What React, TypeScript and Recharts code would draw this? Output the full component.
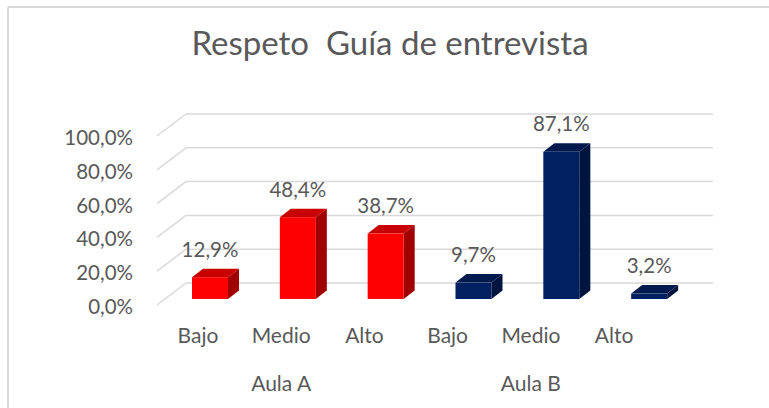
import React from "react";
import { BarChart, Bar, XAxis, YAxis, CartesianGrid, LabelList } from "recharts";

const levels = ["Bajo", "Medio", "Alto", "Bajo", "Medio", "Alto"];
const groups = ["Aula A", "Aula A", "Aula A", "Aula B", "Aula B", "Aula B"];
const values = [12.9, 48.4, 38.7, 9.7, 87.1, 3.2];
const yTicks = [0, 20, 40, 60, 80, 100];
const title = "Respeto  Guía de entrevista";

const data = levels.map((lvl, i) => ({
  key: `${groups[i]}-${lvl}`,
  level: lvl,
  group: groups[i],
  value: values[i],
}));

const FONT = "Lato, Carlito, Calibri, 'Open Sans', sans-serif";
const TXT = "#595959";
const GRID = "#D9D9D9";
const FS = 20.5;

const palette: Record<string, { front: string; top: string; side: string }> = {
  "Aula A": { front: "#FF0000", top: "#C80000", side: "#A00000" },
  "Aula B": { front: "#002060", top: "#001A4E", side: "#001440" },
};

// 3D offsets
const BAR_SHIFT_X = 8;
const BAR_SHIFT_Y = -6;
const DEPTH_X = 11;
const DEPTH_Y = 8.5;
const WALL_X = 28;
const WALL_Y = 22;

const fmtPct = (v: number) => v.toFixed(1).replace(".", ",") + "%";

const Bar3D = (props: any) => {
  const { x, y, width, height, payload } = props;
  if (x == null || y == null) return null;
  const c = palette[payload.group];
  const fx = x + BAR_SHIFT_X;
  const fy = y + BAR_SHIFT_Y;
  const w = width;
  const h = height;
  const top = `${fx},${fy} ${fx + DEPTH_X},${fy - DEPTH_Y} ${fx + w + DEPTH_X},${fy - DEPTH_Y} ${fx + w},${fy}`;
  const side = `${fx + w},${fy} ${fx + w + DEPTH_X},${fy - DEPTH_Y} ${fx + w + DEPTH_X},${fy + h - DEPTH_Y} ${fx + w},${fy + h}`;
  return (
    <g>
      <polygon points={side} fill={c.side} />
      <polygon points={top} fill={c.top} />
      <rect x={fx} y={fy} width={w} height={h} fill={c.front} />
    </g>
  );
};

const ValueLabel = (props: any) => {
  const { x, y, width, value } = props;
  const cx = x + BAR_SHIFT_X + width / 2;
  const by = y + BAR_SHIFT_Y - DEPTH_Y - 12;
  return (
    <text x={cx} y={by} textAnchor="middle" fill={TXT} fontSize={FS} fontFamily={FONT}>
      {fmtPct(value)}
    </text>
  );
};

const YTick = (props: any) => {
  const { x, y, payload } = props;
  return (
    <text x={x} y={y + 9} textAnchor="end" fill={TXT} fontSize={FS} fontFamily={FONT}>
      {fmtPct(payload.value)}
    </text>
  );
};

const XTick = (props: any) => {
  const { x, y, payload, index } = props;
  const i = typeof index === "number" ? index : payload.index;
  const lx = 6.6 + 0.9476 * x;
  const g = groups[i];
  const members = groups.map((gg, k) => (gg === g ? k : -1)).filter((k) => k >= 0);
  const isMid = members[Math.floor(members.length / 2)] === i;
  return (
    <g>
      <text x={lx} y={y + 38} textAnchor="middle" fill={TXT} fontSize={FS + 0.5} fontFamily={FONT}>
        {levels[i]}
      </text>
      {isMid && (
        <text x={lx} y={y + 86} textAnchor="middle" fill={TXT} fontSize={FS + 0.5} fontFamily={FONT}>
          {g}
        </text>
      )}
    </g>
  );
};

const gridLine = (p: any) => {
  const { x1, x2, y1, index } = p;
  return (
    <g key={`h-${index}-${y1}`}>
      <line x1={x1 - 1} y1={y1} x2={x1 + WALL_X} y2={y1 - WALL_Y} stroke={GRID} strokeWidth={1.5} />
      <line x1={x1 + WALL_X} y1={y1 - WALL_Y} x2={x2 + WALL_X} y2={y1 - WALL_Y} stroke={GRID} strokeWidth={1.5} />
    </g>
  );
};

export default function App() {
  return (
    <div style={{ position: "absolute", left: 0, top: 0, width: 769, height: 408, background: "#fff", overflow: "hidden" }}>
      <BarChart
        width={769}
        height={408}
        data={data}
        margin={{ top: 136, right: 84, bottom: 33, left: 0 }}
      >
        <CartesianGrid vertical={false} horizontal={gridLine} />
        <XAxis
          dataKey="key"
          axisLine={false}
          tickLine={false}
          tickSize={0}
          tickMargin={0}
          height={70}
          interval={0}
          tick={<XTick />}
        />
        <YAxis
          domain={[0, 100]}
          ticks={yTicks}
          axisLine={false}
          tickLine={false}
          tickSize={0}
          tickMargin={25}
          width={158}
          interval={0}
          tick={<YTick />}
        />
        <Bar dataKey="value" barSize={36} shape={<Bar3D />} isAnimationActive={false}>
          <LabelList dataKey="value" content={<ValueLabel />} />
        </Bar>
      </BarChart>
      <svg width={769} height={408} style={{ position: "absolute", left: 0, top: 0, pointerEvents: "none" }}>
        <line x1={8} y1={7} x2={8} y2={408} stroke={GRID} strokeWidth={2} />
        <line x1={8} y1={7} x2={769} y2={7} stroke={GRID} strokeWidth={2} />
        <text x={390} y={55} textAnchor="middle" fill={TXT} fontSize={33} fontFamily={FONT} style={{ whiteSpace: "pre" }}>
          {title}
        </text>
      </svg>
    </div>
  );
}
